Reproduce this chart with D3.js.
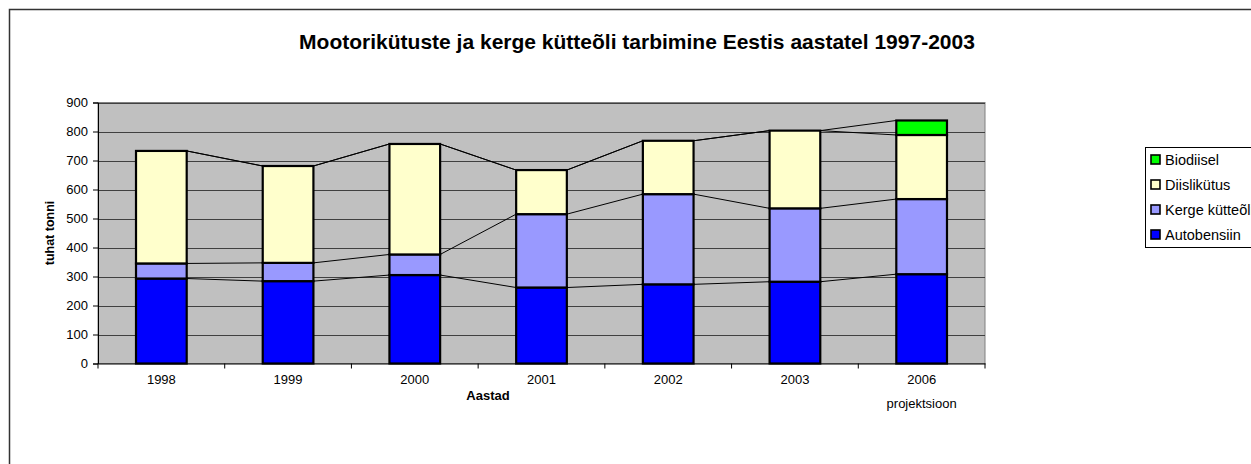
<!DOCTYPE html>
<html><head><meta charset="utf-8">
<script src="https://cdn.jsdelivr.net/npm/d3@7"></script>
<style>body{margin:0;background:#fff;}svg{display:block;font-family:"Liberation Sans",Arial,sans-serif;}</style>
</head><body>
<svg id="c" width="1251" height="464"></svg>
<script>
const years = ["1998","1999","2000","2001","2002","2003","2006"];
const subLabels = ["","","","","","","projektsioon"];
const seriesNames = ["Autobensiin","Kerge kütteõli","Diislikütus","Biodiisel"];
const autobensiin = [293,284,305,262,273,282,308];
const kergeKytteoli = [52,63,71,253,311,253,259];
const diislikytus = [388,334,381,152,184,268,221];
const biodiisel = [0,0,0,0,0,0,50];
const yTicks = [0,100,200,300,400,500,600,700,800,900];
const colors = ["#0000FF","#9999FF","#FFFFCC","#00FF00"];

const svg = d3.select("#c");
// outer chart frame
svg.append("rect").attr("x",9.5).attr("y",9.5).attr("width",1260).attr("height",470)
  .attr("fill","#fff").attr("stroke","#333").attr("stroke-width",1.5);

const L=98, R=985, T=102.5, B=363.5;
const x = d3.scaleBand().domain(years).range([L,R]).paddingInner(0.6).paddingOuter(0.3);
const xb = d3.scaleBand().domain(years).range([L,R]);
const y = d3.scaleLinear().domain([0,900]).range([B,T]);

svg.append("rect").attr("x",L).attr("y",T).attr("width",R-L).attr("height",B-T)
  .attr("fill","#C0C0C0").attr("stroke","#808080").attr("stroke-width",1);

// gridlines
svg.append("g").selectAll("line").data(yTicks.filter(d=>d>0)).join("line")
  .attr("x1",L).attr("x2",R).attr("y1",d=>Math.round(y(d))+0.5).attr("y2",d=>Math.round(y(d))+0.5)
  .attr("stroke","#404040").attr("stroke-width",1);

const data = years.map((yr,i)=>({year:yr,"Autobensiin":autobensiin[i],"Kerge kütteõli":kergeKytteoli[i],"Diislikütus":diislikytus[i],"Biodiisel":biodiisel[i]}));
const stack = d3.stack().keys(seriesNames)(data);

// series lines
const lg = svg.append("g");
stack.forEach(s=>{
  for(let i=0;i<years.length-1;i++){
    lg.append("line")
      .attr("x1",x(years[i])+x.bandwidth()).attr("y1",y(s[i][1]))
      .attr("x2",x(years[i+1])).attr("y2",y(s[i+1][1]))
      .attr("stroke","#000").attr("stroke-width",1);
  }
});

// bars
stack.forEach((s,si)=>{
  svg.append("g").selectAll("rect").data(s.filter(d=>d[1]-d[0]>0)).join("rect")
    .attr("x",d=>x(d.data.year)).attr("width",x.bandwidth())
    .attr("y",d=>y(d[1])).attr("height",d=>y(d[0])-y(d[1]))
    .attr("fill",colors[si]).attr("stroke","#000").attr("stroke-width",2.2);
});

// y axis
const ya = svg.append("g").attr("transform",`translate(${L},0)`)
  .call(d3.axisLeft(y).tickValues(yTicks).tickSize(5).tickPadding(5));
ya.select(".domain").attr("stroke","#000");
ya.selectAll("text").attr("font-size",13).attr("fill","#000").attr("font-family","Liberation Sans, Arial");
// x axis
const xa = svg.append("g").attr("transform",`translate(0,${B})`)
  .call(d3.axisBottom(xb).tickSize(0).tickPadding(11));
xa.select(".domain").attr("stroke","#000");
xa.selectAll("text").attr("font-size",13).attr("fill","#000").attr("font-family","Liberation Sans, Arial");
svg.append("g").selectAll("line").data(d3.range(years.length+1)).join("line")
  .attr("x1",i=>L+i*xb.step()).attr("x2",i=>L+i*xb.step()).attr("y1",B).attr("y2",B+5).attr("stroke","#000");
svg.append("g").selectAll("text").data(years.map((d,i)=>({y:d,s:subLabels[i]})).filter(d=>d.s)).join("text")
  .attr("x",d=>xb(d.y)+xb.bandwidth()/2).attr("y",408).attr("text-anchor","middle")
  .attr("font-size",13).text(d=>d.s);

// titles
svg.append("text").attr("x",637).attr("y",49).attr("text-anchor","middle")
  .attr("font-size",21).attr("font-weight","bold").text("Mootorikütuste ja kerge kütteõli tarbimine Eestis aastatel 1997-2003");
svg.append("text").attr("x",488).attr("y",400).attr("text-anchor","middle")
  .attr("font-size",13).attr("font-weight","bold").text("Aastad");
svg.append("text").attr("transform",`translate(54,${(T+B)/2}) rotate(-90)`).attr("text-anchor","middle")
  .attr("font-size",12.5).attr("font-weight","bold").text("tuhat tonni");

// legend
const legX=1145.5, legY=147.5;
svg.append("rect").attr("x",legX).attr("y",legY).attr("width",130).attr("height",100)
  .attr("fill","#fff").attr("stroke","#000").attr("stroke-width",1);
const legOrder = [3,2,1,0];
const lgi = svg.append("g").selectAll("g").data(legOrder).join("g")
  .attr("transform",(d,i)=>`translate(${legX+5},${legY+12+i*25})`);
lgi.append("rect").attr("x",0.5).attr("y",-4.5).attr("width",9).attr("height",9)
  .attr("fill",d=>colors[d]).attr("stroke","#000").attr("stroke-width",1.6);
lgi.append("text").attr("x",14.5).attr("y",5.5).attr("font-size",14.5).text(d=>seriesNames[d]);
</script>
</body></html>
